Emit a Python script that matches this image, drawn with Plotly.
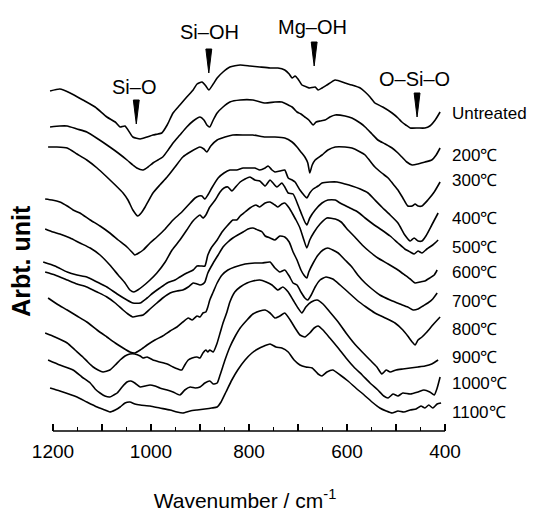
import plotly.graph_objects as go

FONT = "Liberation Sans, Arial, sans-serif"

# ---- data: wavenumber (cm-1) and intensity (arbitrary units, offset) ----
labels = ["Untreated", "200℃", "300℃", "400℃", "500℃", "600℃",
          "700℃", "800℃", "900℃", "1000℃", "1100℃"]

wn_untreated = [1206,1186,1165,1139,1114,1090,1073,1063,1053,1037,1022,1008,996,986,978,967,955,941,927,914,906,896,888,882,873,865,853,839,818,798,778,757,741,727,718,712,706,700,692,682,676,665,659,651,641,624,604,590,573,563,553,543,527,508,496,488,480,471,455,441,431,420,410]
val_untreated = [34.0,34.2,33.8,33.1,32.4,31.4,30.9,30.4,30.5,29.4,29.2,29.4,29.6,29.7,29.8,30.6,31.8,32.6,33.4,34.1,34.7,34.9,34.5,34.1,34.7,35.3,35.9,36.4,36.6,36.5,36.4,36.3,36.3,36.1,35.7,35.3,35.5,35.2,34.6,34.4,34.3,34.4,34.1,34.3,34.6,35.1,34.8,34.6,34.3,33.9,33.4,32.8,32.4,31.8,31.3,30.9,30.6,30.3,30.3,30.3,30.5,31.1,31.9]

wn_200 = [1206,1186,1171,1151,1131,1108,1084,1067,1049,1037,1029,1016,1006,996,986,976,965,955,941,927,914,900,892,886,880,873,865,853,839,818,792,767,747,733,720,712,706,702,694,686,678,669,663,655,645,635,624,604,590,573,563,549,537,522,508,496,488,478,467,455,441,427,418,410]
val_200 = [30.4,30.5,30.5,30.2,29.9,29.2,28.4,27.8,27.1,26.6,26.3,26.1,26.4,26.8,27.1,27.4,28.1,28.8,29.6,30.4,31.0,31.4,31.1,30.6,30.4,31.1,31.8,32.4,32.9,33.1,33.1,32.8,32.9,32.9,32.6,32.4,32.1,31.9,31.7,31.4,31.1,30.6,30.9,31.0,31.1,31.4,31.6,31.5,31.3,30.8,30.4,29.7,29.1,28.7,28.3,27.8,27.4,26.9,26.6,26.7,26.9,27.1,27.6,28.3]

wn_300 = [1210,1192,1171,1151,1131,1110,1090,1073,1057,1047,1037,1027,1020,1012,996,982,967,951,935,920,900,892,886,878,865,849,833,808,792,767,747,727,712,702,694,686,680,676,671,665,651,639,624,604,590,573,563,553,543,529,516,506,496,486,476,467,461,455,447,435,422,410]
val_300 = [28.4,28.4,28.3,27.7,27.1,26.3,25.4,24.6,23.8,23.1,22.1,21.5,21.8,22.4,23.8,24.6,25.4,26.4,27.4,27.9,28.4,28.2,27.9,28.5,29.1,29.4,29.6,29.6,29.6,29.4,29.4,29.3,28.9,28.4,27.9,27.4,26.8,25.8,26.6,27.1,27.6,28.1,28.4,28.4,28.3,27.9,27.6,27.0,26.4,25.8,25.3,24.7,24.1,23.3,22.5,22.5,22.7,22.5,22.5,23.1,23.9,24.9]

wn_400 = [1216,1202,1186,1171,1159,1145,1124,1104,1084,1067,1049,1039,1033,1025,1016,1002,988,971,955,937,920,910,902,896,890,884,876,863,851,839,825,812,798,788,778,767,761,753,747,737,727,720,712,706,696,688,682,676,669,659,651,635,620,604,590,573,557,543,529,512,496,482,471,463,455,447,439,427,414]
val_400 = [23.2,23.1,22.9,22.5,22.1,21.8,21.1,20.5,19.8,19.1,18.4,17.9,17.6,17.8,18.1,18.8,19.4,20.2,21.1,21.9,22.8,23.3,23.5,23.5,23.2,23.6,24.3,25.3,25.8,26.1,26.1,26.3,26.3,26.3,26.1,26.3,26.5,26.1,25.9,26.0,26.1,25.3,25.1,24.9,24.1,23.6,23.3,23.8,24.2,24.5,24.8,24.9,24.9,24.7,24.5,24.2,23.8,23.1,22.4,21.6,20.8,19.6,19.0,19.3,19.0,19.0,19.5,20.6,21.8]

wn_500 = [1216,1200,1186,1165,1145,1124,1104,1084,1067,1053,1043,1035,1027,1016,1002,988,971,957,941,927,916,906,900,894,888,880,869,859,851,843,835,829,818,808,798,788,778,767,757,751,743,733,727,720,710,700,692,686,682,676,665,651,639,624,614,594,578,563,547,529,512,496,482,471,463,455,447,437,425,414]
val_500 = [20.2,19.9,19.7,19.3,18.8,18.3,17.6,16.6,15.6,14.8,14.1,13.9,14.1,14.5,15.1,15.8,16.9,18.1,19.1,20.1,20.9,21.4,21.6,21.3,21.6,22.4,23.1,23.9,24.3,24.4,24.0,24.3,24.9,25.2,25.4,25.1,25.0,24.5,25.1,24.8,24.4,24.8,24.4,23.8,23.7,22.6,21.6,20.9,20.6,21.3,22.1,22.8,23.1,23.1,22.8,22.3,21.9,21.3,20.7,20.1,19.5,18.8,18.2,17.9,17.7,18.0,17.8,18.2,18.6,19.1]

wn_600 = [1220,1196,1171,1151,1131,1110,1090,1069,1049,1037,1022,1008,996,982,967,951,941,927,914,906,898,890,884,876,865,855,843,833,825,818,808,798,786,778,767,757,747,741,733,727,718,712,704,696,688,682,676,667,655,641,624,612,598,584,569,553,537,516,496,482,471,461,451,441,431,422,416]
val_600 = [16.9,16.5,15.9,15.6,15.4,14.9,14.4,13.7,13.1,12.8,12.8,13.3,13.8,14.3,14.8,15.1,15.4,15.8,16.1,16.5,16.5,16.5,17.6,18.4,19.1,19.9,20.6,21.1,21.1,21.5,21.9,22.3,22.6,22.4,22.8,22.9,22.6,22.4,22.7,22.8,22.3,21.8,21.1,20.3,19.1,18.3,19.1,19.9,20.7,21.3,21.2,20.9,20.1,19.4,18.6,17.9,17.3,16.7,16.1,15.6,15.2,14.8,14.9,15.0,15.3,15.6,16.1]

wn_700 = [1216,1196,1171,1151,1131,1110,1090,1073,1057,1047,1037,1027,1016,1002,988,976,961,947,935,924,914,906,900,894,890,884,873,863,853,843,833,823,812,802,792,782,773,767,757,747,737,727,718,710,702,694,688,682,678,669,659,649,639,629,618,604,590,578,563,549,533,512,492,476,465,455,445,435,425,416]
val_700 = [15.9,15.6,15.1,14.7,14.4,13.9,13.4,12.8,12.1,11.7,11.4,11.5,11.6,12.2,12.8,13.3,13.8,14.0,14.1,14.4,14.8,14.7,14.6,14.7,14.9,15.8,16.8,17.6,18.4,18.9,19.3,19.6,19.9,20.2,20.3,20.1,19.9,19.5,19.3,19.1,19.5,19.4,18.9,17.9,17.1,16.1,15.6,15.3,15.9,16.8,17.6,18.1,18.3,18.1,17.8,17.1,16.4,15.6,14.8,14.2,13.6,13.1,12.7,12.4,12.1,12.2,12.5,12.8,13.2,13.8]

wn_800 = [1210,1192,1171,1151,1131,1110,1090,1073,1057,1043,1033,1022,1008,992,976,961,947,935,924,916,906,900,894,888,884,880,873,865,855,843,829,808,788,773,757,747,737,727,718,710,702,694,686,680,673,665,655,643,629,614,598,580,561,543,522,502,486,476,467,461,455,447,437,425,410]
val_800 = [13.3,12.7,12.1,11.5,10.9,10.1,9.4,8.8,8.3,7.9,7.8,8.1,8.6,9.1,9.5,10.0,10.4,10.9,11.3,11.1,11.5,11.4,11.8,11.9,12.4,13.1,13.9,14.8,15.6,16.1,16.4,16.7,16.8,16.8,16.9,16.3,15.9,16.1,15.5,14.8,14.6,13.9,13.3,13.1,13.6,14.4,15.1,15.4,15.2,14.6,13.9,13.1,12.4,11.8,11.3,10.8,10.1,9.5,8.9,8.6,9.1,9.4,9.9,10.6,11.4]

wn_900 = [1216,1196,1171,1155,1139,1129,1118,1108,1098,1084,1073,1063,1053,1043,1033,1022,1016,1008,996,982,967,955,945,937,931,924,916,906,900,894,888,884,880,873,865,859,853,845,839,829,818,804,792,778,765,753,741,731,720,710,700,692,684,673,661,649,635,618,602,586,569,553,539,529,520,512,500,486,471,455,441,427,414]
val_900 = [9.8,9.4,8.8,8.1,7.4,6.9,6.4,6.1,5.9,6.1,6.6,7.1,7.5,7.7,7.7,7.5,7.3,7.4,7.1,6.9,6.7,6.4,6.2,6.1,6.6,7.1,7.3,7.4,7.3,7.8,8.1,7.9,8.1,7.9,8.8,9.8,10.8,11.9,12.9,13.9,14.4,14.8,15.0,15.1,14.9,14.6,14.1,14.4,13.9,13.1,12.3,11.8,12.4,12.9,13.1,12.7,11.9,10.9,9.8,8.8,7.9,7.1,6.4,5.7,6.1,5.9,6.1,6.2,6.3,6.4,6.5,6.7,7.1]

wn_1000 = [1210,1186,1159,1141,1124,1114,1104,1094,1084,1076,1069,1059,1049,1041,1033,1022,1012,1002,992,982,967,955,941,931,920,910,900,890,880,873,865,859,849,839,829,818,804,792,778,767,757,747,737,727,716,706,696,686,676,667,659,649,635,618,602,586,569,553,537,525,516,506,496,486,471,455,443,431,422,416,410]
val_1000 = [7.1,6.6,6.1,5.4,4.8,4.2,3.8,3.5,3.4,3.6,3.8,4.4,4.9,5.0,4.8,4.4,4.5,4.6,4.5,4.3,4.1,3.9,3.6,4.1,4.4,4.3,4.4,4.8,5.0,4.7,4.8,5.6,7.1,8.4,9.4,10.3,11.1,11.7,12.0,12.1,11.8,11.3,11.5,11.8,11.1,10.3,9.6,9.4,9.8,10.3,10.5,10.1,9.3,8.3,7.3,6.4,5.6,4.8,4.1,3.5,3.3,3.7,3.5,3.8,3.7,3.9,4.1,3.9,3.6,4.3,5.4]

wn_1100 = [1206,1186,1151,1131,1110,1094,1084,1073,1063,1053,1043,1033,1022,1002,982,961,947,935,920,906,890,876,865,857,847,835,823,808,794,782,769,757,745,733,720,708,696,684,671,659,651,641,629,614,598,582,565,549,533,520,508,496,484,471,459,449,441,433,425,416,408]
val_1100 = [4.3,4.0,3.4,2.9,2.4,2.1,1.9,2.1,2.4,2.8,2.9,2.7,2.6,2.5,2.3,2.1,1.9,1.8,2.0,2.1,2.2,2.3,2.4,2.9,3.9,5.1,6.1,7.1,7.8,8.2,8.5,8.7,8.4,8.3,7.9,7.1,6.6,6.4,6.3,5.7,5.5,5.9,6.1,5.6,5.0,4.3,3.6,2.9,2.3,2.0,1.8,2.0,1.9,2.1,2.2,2.5,2.3,2.6,2.3,2.7,2.8]

series_wn = [wn_untreated, wn_200, wn_300, wn_400, wn_500, wn_600,
             wn_700, wn_800, wn_900, wn_1000, wn_1100]
series_val = [val_untreated, val_200, val_300, val_400, val_500, val_600,
              val_700, val_800, val_900, val_1000, val_1100]

# label heights at the right (intensity units)
label_y = [31.8, 27.6, 25.1, 21.3, 18.4, 15.9, 13.0, 10.2, 7.4, 4.8, 1.9]

# band assignments
band_names = ["Si–O", "Si–OH", "Mg–OH", "O–Si–O"]
band_wn = [1030, 882, 667, 457]
band_text_wn = [1035, 880, 671, 463]
band_text_y = [34.4, 39.9, 40.4, 35.2]
arrow_top = [33.1, 38.2, 38.9, 33.8]
arrow_tip = [30.7, 35.8, 36.5, 31.4]

tick_vals = [1200, 1100, 1000, 900, 800, 700, 600, 500, 400]
tick_text = ["1200", "", "1000", "", "800", "", "600", "", "400"]
minor_vals = [1150, 1050, 950, 850, 750, 650, 550, 450]

fig = go.Figure()
for wn, val, name in zip(series_wn, series_val, labels):
    fig.add_trace(go.Scatter(
        x=wn, y=val, mode="lines", name=name,
        line=dict(color="black", width=1.6, shape="spline", smoothing=0.5),
        showlegend=False, hoverinfo="skip"))

annotations = []
for name, y in zip(labels, label_y):
    annotations.append(dict(
        x=1.0, xref="paper", y=y, yref="y", text=name, showarrow=False,
        xanchor="left", yanchor="middle",
        font=dict(family=FONT, size=17, color="black")))

shapes = []
for name, w, tw, ty, top, tip in zip(band_names, band_wn, band_text_wn,
                                     band_text_y, arrow_top, arrow_tip):
    annotations.append(dict(
        x=tw, y=ty, xref="x", yref="y", text=name, showarrow=False,
        xanchor="center", yanchor="middle",
        font=dict(family=FONT, size=20, color="black")))
    shapes.append(dict(
        type="path", xref="x", yref="y",
        path=f"M {w+6},{top} L {w-6},{top} L {w},{tip} Z",
        fillcolor="black", line=dict(color="black", width=1)))

# x axis baseline from 1200 to 400 only
shapes.append(dict(type="line", xref="x", yref="paper", x0=1200, x1=400,
                   y0=0, y1=0, line=dict(color="black", width=1.5)))

annotations.append(dict(
    x=-0.045, y=0.413, xref="paper", yref="paper", text="<b>Arbt. unit</b>",
    textangle=-90, showarrow=False, xanchor="center", yanchor="middle",
    font=dict(family=FONT, size=25, color="black")))

# the page body adds an 8px offset, so the figure is 8px smaller than the window
fig.update_layout(
    template="none",
    width=527, height=504,
    margin=dict(l=32, r=85, t=12, b=81, autoexpand=False),
    paper_bgcolor="white", plot_bgcolor="white",
    font=dict(family=FONT, color="black"),
    annotations=annotations, shapes=shapes,
    xaxis=dict(
        range=[1226.5, 389.8], showline=False, showgrid=False, zeroline=False,
        automargin=False,
        tickmode="array", tickvals=tick_vals, ticktext=tick_text,
        ticks="inside", ticklen=7, tickwidth=1.5, tickcolor="black",
        ticklabelstandoff=7,
        tickfont=dict(family=FONT, size=19, color="black"),
        minor=dict(tickvals=minor_vals, ticks="inside", ticklen=4,
                   tickwidth=1, tickcolor="black"),
        title=dict(text="Wavenumber / cm<sup>-1</sup>", standoff=32,
                   font=dict(family=FONT, size=21, color="black")),
    ),
    yaxis=dict(range=[0, 41.1], visible=False, automargin=False),
)

fig.write_html("out.html")
